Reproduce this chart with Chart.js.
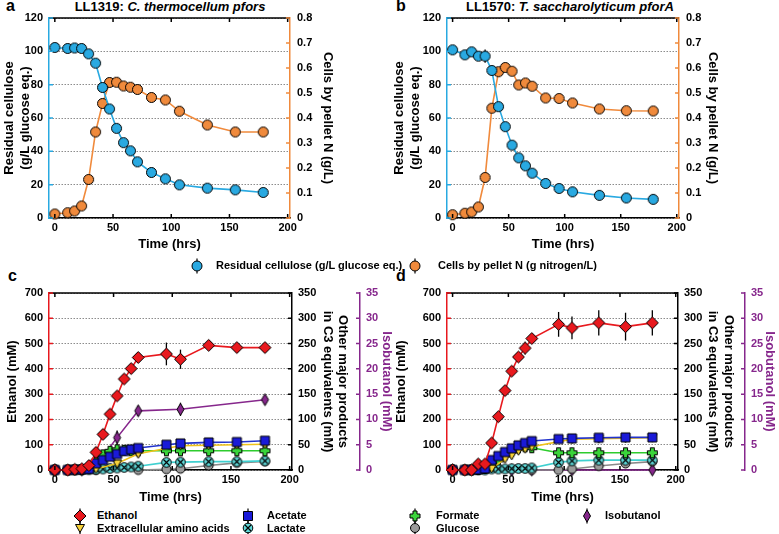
<!DOCTYPE html>
<html>
<head>
<meta charset="utf-8">
<script src="https://cdn.jsdelivr.net/npm/chart.js@4.4.1/dist/chart.umd.min.js"></script>
<style>
  body { margin: 0; width: 779px; height: 534px; background: #fff; position: relative; overflow: hidden;
         font-family: "Liberation Sans", Arial, sans-serif; font-weight: bold; color: #000; }
  canvas { position: absolute; }
  .lbl { position: absolute; white-space: nowrap; }
  .letter { font-size: 16px; line-height: 16px; }
  .ptitle { font-size: 13px; line-height: 15px; transform: translateX(-50%); }
  .legtxt { position: absolute; white-space: nowrap; font-size: 11px; line-height: 14px; }
</style>
</head>
<body>
<div class="lbl letter" style="left:6px;top:-2px">a</div>
<div class="lbl letter" style="left:396px;top:-2px">b</div>
<div class="lbl letter" style="left:8px;top:268px">c</div>
<div class="lbl letter" style="left:396px;top:268px">d</div>
<div class="lbl ptitle" style="left:170px;top:-1px">LL1319: <i>C. thermocellum pfors</i></div>
<div class="lbl ptitle" style="left:570px;top:-1px">LL1570: <i>T. saccharolyticum pforA</i></div>

<script>
// ---- data ----
const xTicks = [0, 50, 100, 150, 200];
const cellTicks = [0, 20, 40, 60, 80, 100, 120];
const nTicks = [0, 0.1, 0.2, 0.3, 0.4, 0.5, 0.6, 0.7, 0.8];
const ethTicks = [0, 100, 200, 300, 400, 500, 600, 700];
const c3Ticks = [0, 50, 100, 150, 200, 250, 300, 350];
const isoTicks = [0, 5, 10, 15, 20, 25, 30, 35];

// panels a, b (hrs)
const tAB = [0, 11, 17, 23, 29, 35, 41, 47, 53, 59, 65, 71, 83, 95, 107, 131, 155, 179];
const aCellulose = [102.3, 101.7, 102, 101.7, 98.5, 92.9, 78.3, 65.4, 53.8, 45.2, 40.3, 33.7, 27.3, 23.5, 19.9, 17.9, 16.9, 15.3];
const aCelluloseErr = [0.5, 0.5, 0.5, 0.5, 2.5, 1, 1, 1, 1, 1, 2, 1, 1, 1, 1, 1, 1, 1];
const aCellsN = [0.016, 0.021, 0.028, 0.048, 0.154, 0.344, 0.458, 0.542, 0.543, 0.528, 0.523, 0.514, 0.482, 0.472, 0.427, 0.372, 0.344, 0.344];
const bCellulose = [100.9, 97.9, 99.7, 97.1, 97.1, 88.5, 66.8, 54.8, 43.7, 36.1, 31.3, 26.9, 20.7, 17.7, 15.7, 13.6, 12.0, 11.2];
const bCelluloseErr = [0.5, 0.5, 0.5, 1, 4, 3, 1, 1, 1, 1, 1, 1, 1, 2, 3, 3, 3, 3];
const bCellsN = [0.013, 0.019, 0.024, 0.044, 0.162, 0.439, 0.585, 0.602, 0.587, 0.532, 0.540, 0.527, 0.480, 0.478, 0.460, 0.436, 0.429, 0.428];

// panels c, d (hrs)
const tCD = [0, 11, 17, 23, 29, 35, 41, 47, 53, 59, 65, 71, 95, 107, 131, 155, 179];
const cEthanol = [0, 0, 3, 5, 18, 70, 141, 221, 293, 360, 401, 445, 459, 438, 493, 484, 484];
const cEthanolErr = [0, 0, 0, 0, 2, 3, 3, 3, 3, 3, 3, 3, 45, 38, 5, 5, 5];
const cAcetate = [0, 0, 0.5, 1, 2, 13.2, 19.7, 26.3, 31.6, 37.5, 40.8, 43.4, 50, 52.6, 54.6, 55.3, 57.9];
const cFormate = [0, 0, 0.5, 1, 3, 15, 30, 37, 40, 39, 38, 38, 38, 38, 38, 38, 38];
const cLactate = [0, 0, 0, 0, 0.5, 1, 2, 3, 4, 5, 6, 7.5, 15, 15.5, 16.5, 16.5, 18];
const tAminoC = [0, 23, 35, 53, 71, 107, 131, 155, 179];
const cAmino = [0, 0, 2, 13, 32, 48, 49, 50, 51];
const tGlucC = [0, 35, 71, 95, 107, 131, 155, 179];
const cGlucose = [0, 0, 0, 1.5, 2.5, 9, 14, 17];
const tIsoC = [0, 23, 35, 53, 71, 107, 179];
const cIso = [0, 0, 0.9, 6.4, 11.7, 12.0, 13.9];
const cIsoErr = [0, 0, 0.3, 1.4, 1, 1.3, 0.8];

const dEthanol = [0, 0, 0, 24, 24, 107, 211, 314, 391, 447, 482, 520, 576, 562, 582, 567, 582];
const dEthanolErr = [0, 0, 0, 6, 6, 5, 5, 5, 8, 10, 25, 20, 49, 45, 50, 55, 50];
const dAcetate = [0, 0, 0.5, 1, 3, 19.7, 27.6, 35.5, 42.8, 48.7, 53.3, 57.2, 61.2, 62.5, 63.8, 64.5, 64.5];
const dFormate = [0, 0, 0, 1, 3, 10, 20, 30, 38, 44, 46, 44, 34, 34, 34, 34, 34];
const dLactate = [0, 0, 0, 0, 0, 2, 2, 2, 2.5, 3, 3, 4, 15, 18, 19.5, 19.5, 19.5];
const tAminoD = [0, 23, 35, 47, 53, 59, 65, 71, 107, 131, 155, 179];
const dAmino = [0, 0, 3, 22, 29, 38, 42, 46, 61, 62, 63, 64];
const tGlucD = [0, 71, 95, 107, 131, 155, 179];
const dGlucose = [0, 0, 0, 2, 8, 13, 16.5];
const tIsoD = [0, 53, 71, 107, 179];
const dIso = [0, 0, 0, 0, 0];

// ---- styles ----
const BLUE = '#29a9e1', ORANGE = '#f08a3c', RED = '#e8191e', PURPLE = '#86278c';
const FONT = 'Liberation Sans';
Chart.defaults.font.family = FONT;
Chart.defaults.font.weight = 'bold';
Chart.defaults.font.size = 11;
Chart.defaults.color = '#000';

function drawMark(ctx, kind, x, y, fill) {
  ctx.fillStyle = fill;
  ctx.strokeStyle = '#000';
  ctx.lineWidth = 1;
  ctx.beginPath();
  if (kind === 'circle') ctx.arc(x, y, 5, 0, Math.PI * 2);
  else if (kind === 'dot') ctx.arc(x, y, 4.5, 0, Math.PI * 2);
  else if (kind === 'diamond') { ctx.moveTo(x, y - 6); ctx.lineTo(x + 6, y); ctx.lineTo(x, y + 6); ctx.lineTo(x - 6, y); ctx.closePath(); }
  else if (kind === 'square') ctx.rect(x - 4.5, y - 4.5, 9, 9);
  else if (kind === 'tri') { ctx.moveTo(x - 4.5, y - 3.5); ctx.lineTo(x + 4.5, y - 3.5); ctx.lineTo(x, y + 4.5); ctx.closePath(); }
  else if (kind === 'thin') { ctx.moveTo(x, y - 6); ctx.lineTo(x + 3.5, y); ctx.lineTo(x, y + 6); ctx.lineTo(x - 3.5, y); ctx.closePath(); }
  else if (kind === 'plus') {
    const a = 2, b = 5;
    ctx.moveTo(x - a, y - b); ctx.lineTo(x + a, y - b); ctx.lineTo(x + a, y - a); ctx.lineTo(x + b, y - a);
    ctx.lineTo(x + b, y + a); ctx.lineTo(x + a, y + a); ctx.lineTo(x + a, y + b); ctx.lineTo(x - a, y + b);
    ctx.lineTo(x - a, y + a); ctx.lineTo(x - b, y + a); ctx.lineTo(x - b, y - a); ctx.lineTo(x - a, y - a); ctx.closePath();
  }
  else if (kind === 'xcircle') ctx.arc(x, y, 4.8, 0, Math.PI * 2);
  ctx.fill();
  ctx.stroke();
  if (kind === 'xcircle') {
    ctx.lineWidth = 1.2;
    ctx.beginPath();
    ctx.moveTo(x - 3, y - 3); ctx.lineTo(x + 3, y + 3);
    ctx.moveTo(x + 3, y - 3); ctx.lineTo(x - 3, y + 3);
    ctx.stroke();
  }
}

function markCanvas(kind, fill) {
  const c = document.createElement('canvas');
  c.width = 15; c.height = 15;
  drawMark(c.getContext('2d'), kind, 7.5, 7.5, fill);
  return c;
}

function pts(t, v) { return t.map((x, i) => ({ x, y: v[i] })); }

function series(label, t, v, color, kind, fill, axis, errs) {
  return {
    label, data: pts(t, v), borderColor: color, borderWidth: 1.6,
    pointStyle: markCanvas(kind, fill), pointRadius: 5,
    yAxisID: axis, errs, clip: false, tension: 0
  };
}

// ---- plugins ----
const errorBars = {
  id: 'errorBars',
  beforeDatasetsDraw(chart) {
    const ctx = chart.ctx;
    ctx.save();
    ctx.strokeStyle = '#000';
    ctx.lineWidth = 1.3;
    chart.data.datasets.forEach((ds, i) => {
      if (!ds.errs) return;
      const ys = chart.scales[ds.yAxisID];
      chart.getDatasetMeta(i).data.forEach((pt, j) => {
        const e = ds.errs[j];
        if (!e) return;
        const v = ds.data[j].y;
        ctx.beginPath();
        ctx.moveTo(pt.x, ys.getPixelForValue(v - e));
        ctx.lineTo(pt.x, ys.getPixelForValue(v + e));
        ctx.stroke();
      });
    });
    ctx.restore();
  }
};

const frame = {
  id: 'frame',
  afterDraw(chart) {
    const { ctx, chartArea: a, scales } = chart;
    ctx.save();
    ctx.lineWidth = 1.5;
    ctx.strokeStyle = '#000';
    ctx.beginPath();
    ctx.moveTo(a.left, a.top); ctx.lineTo(a.right, a.top);
    scales.x.ticks.forEach(t => {
      const px = scales.x.getPixelForValue(t.value);
      ctx.moveTo(px, a.bottom); ctx.lineTo(px, a.bottom - 4);
      ctx.moveTo(px, a.top); ctx.lineTo(px, a.top + 4);
    });
    ctx.stroke();
    Object.values(scales).forEach(s => {
      if (s.axis !== 'y') return;
      const left = s.position === 'left';
      const x0 = left ? s.right : s.left;
      const dir = left ? 1 : -1;
      ctx.strokeStyle = s.options.border.color;
      ctx.beginPath();
      s.ticks.forEach(t => {
        const py = s.getPixelForValue(t.value);
        ctx.moveTo(x0, py); ctx.lineTo(x0 + dir * 4, py);
      });
      ctx.stroke();
    });
    ctx.restore();
  }
};

function setTicks(arr) { return s => { s.ticks = arr.map(v => ({ value: v })); }; }
const titleFont = { size: 13, weight: 'bold', family: FONT };

function xScale(h, pad) {
  return {
    type: 'linear', min: -5, max: 202,
    afterBuildTicks: setTicks(xTicks),
    afterFit: s => { s.height = h; },
    grid: { drawOnChartArea: false, drawTicks: false },
    border: { color: '#000', width: 1.5 },
    ticks: { padding: 3 },
    title: { display: true, text: 'Time (hrs)', font: titleFont, padding: { top: 0, bottom: pad } }
  };
}

function yScale(o) {
  return {
    type: 'linear', position: o.pos, min: o.min, max: o.max,
    afterBuildTicks: setTicks(o.ticks),
    afterFit: s => { s.width = o.w; },
    grid: o.grid ? { color: '#8c8c8c', lineWidth: 1, drawTicks: false } : { drawOnChartArea: false, drawTicks: false },
    border: { color: o.color, width: 1.5, dash: o.grid ? [1.5, 1.5] : undefined },
    ticks: { padding: o.tp, color: o.textColor || '#000', callback: v => String(v) },
    title: { display: true, text: o.title, color: o.textColor || '#000', font: titleFont, padding: { top: o.titlePad, bottom: 0 } }
  };
}

function makeChart(left, top, w, h, padTop, datasets, scales) {
  const cv = document.createElement('canvas');
  cv.width = w; cv.height = h;
  cv.style.left = left + 'px'; cv.style.top = top + 'px';
  document.body.appendChild(cv);
  new Chart(cv, {
    type: 'line',
    data: { datasets },
    options: {
      responsive: false, animation: false, events: [],
      layout: { padding: { top: padTop, left: 0, right: 0, bottom: 0 } },
      plugins: { legend: { display: false }, tooltip: { enabled: false } },
      scales
    },
    plugins: [errorBars, frame]
  });
}

// ---- panel a ----
makeChart(0, 0, 345, 254, 18, [
  series('Residual cellulose', tAB, aCellulose, BLUE, 'circle', BLUE, 'yL', aCelluloseErr),
  series('Cells by pellet N', tAB, aCellsN, ORANGE, 'circle', ORANGE, 'yR')
], {
  x: xScale(36, 2.2),
  yL: yScale({ pos: 'left', min: 0, max: 120, ticks: cellTicks, w: 49, grid: true, color: BLUE, tp: 6,
               title: ['Residual cellulose', '(g/L glucose eq.)'], titlePad: 2 }),
  yR: yScale({ pos: 'right', min: 0, max: 0.8, ticks: nTicks, w: 55, color: ORANGE, tp: 7,
               title: 'Cells by pellet N (g/L)', titlePad: 10 })
});

// ---- panel b ----
makeChart(390, 0, 333, 254, 18, [
  series('Residual cellulose', tAB, bCellulose, BLUE, 'circle', BLUE, 'yL', bCelluloseErr),
  series('Cells by pellet N', tAB, bCellsN, ORANGE, 'circle', ORANGE, 'yR')
], {
  x: xScale(36, 2.2),
  yL: yScale({ pos: 'left', min: 0, max: 120, ticks: cellTicks, w: 57, grid: true, color: BLUE, tp: 6,
               title: ['Residual cellulose', '(g/L glucose eq.)'], titlePad: 2 }),
  yR: yScale({ pos: 'right', min: 0, max: 0.8, ticks: nTicks, w: 44, color: ORANGE, tp: 7,
               title: 'Cells by pellet N (g/L)', titlePad: 2.2 })
});

// ---- panels c, d ----
function productSets(eth, ethErr, acet, amT, amino, form, lact, glT, gluc, isoT, iso, isoErr) {
  return [
    series('Ethanol', tCD, eth, RED, 'diamond', RED, 'yL', ethErr),
    series('Acetate', tCD, acet, '#2233cc', 'square', '#1a1ad8', 'y1'),
    series('Extracellular amino acids', amT, amino, '#efc21a', 'tri', '#f7d23a', 'y1'),
    series('Formate', tCD, form, '#2ecc2e', 'plus', '#3ad43a', 'y1'),
    series('Lactate', tCD, lact, '#3fd0d0', 'xcircle', '#5fd9d9', 'y1'),
    series('Glucose', glT, gluc, '#8a8a8a', 'dot', '#9a9a9a', 'y1'),
    series('Isobutanol', isoT, iso, PURPLE, 'thin', PURPLE, 'y2', isoErr)
  ];
}

function productScales(wL, w1, w2, ethPad, c3Pad, isoPad) {
  return {
    x: xScale(38, 3.2),
    yL: yScale({ pos: 'left', min: 0, max: 700, ticks: ethTicks, w: wL, grid: true, color: RED, tp: 6,
                 title: 'Ethanol (mM)', titlePad: ethPad }),
    y1: yScale({ pos: 'right', min: 0, max: 350, ticks: c3Ticks, w: w1, color: '#000', tp: 6,
                 title: ['Other major products', 'in C3 equivalents (mM)'], titlePad: c3Pad }),
    y2: yScale({ pos: 'right', min: 0, max: 35, ticks: isoTicks, w: w2, color: PURPLE, tp: 6, textColor: PURPLE,
                 title: 'Isobutanol (mM)', titlePad: isoPad })
  };
}

makeChart(0, 270, 397, 238, 23,
  productSets(cEthanol, cEthanolErr, cAcetate, tAminoC, cAmino, cFormate, cLactate, tGlucC, cGlucose, tIsoC, cIso, cIsoErr),
  productScales(49, 68, 37, 4.2, 9.2, 2.5));

makeChart(390, 270, 389, 238, 23,
  productSets(dEthanol, dEthanolErr, dAcetate, tAminoD, dAmino, dFormate, dLactate, tGlucD, dGlucose, tIsoD, dIso, null),
  productScales(57, 67, 34, 3.9, 8.9, 1.2));

// ---- legends ----
const legend = [
  ['circle', BLUE, 197, 265.7, 216, 'Residual cellulose (g/L glucose eq.)'],
  ['circle', ORANGE, 415, 265.7, 438, 'Cells by pellet N (g nitrogen/L)'],
  ['diamond', RED, 80, 515.7, 97, 'Ethanol'],
  ['tri', '#f7d23a', 80, 528.3, 97, 'Extracellular amino acids'],
  ['square', '#1a1ad8', 248, 515.7, 267, 'Acetate'],
  ['xcircle', '#5fd9d9', 248, 528.3, 267, 'Lactate'],
  ['plus', '#3ad43a', 415, 515.7, 436, 'Formate'],
  ['dot', '#9a9a9a', 415, 528.3, 436, 'Glucose'],
  ['thin', PURPLE, 587, 515.7, 605, 'Isobutanol']
];
legend.forEach(([kind, fill, x, y, tx, text]) => {
  const c = document.createElement('canvas');
  c.width = 16; c.height = 16;
  c.style.left = (x - 8) + 'px'; c.style.top = (y - 8) + 'px';
  const ctx = c.getContext('2d');
  ctx.strokeStyle = '#000'; ctx.lineWidth = 1.2;
  ctx.beginPath(); ctx.moveTo(8, 0.5); ctx.lineTo(8, 15.5); ctx.stroke();
  drawMark(ctx, kind, 8, 8, fill);
  document.body.appendChild(c);
  const d = document.createElement('div');
  d.className = 'legtxt';
  d.style.left = tx + 'px'; d.style.top = (y - 7.5) + 'px';
  d.textContent = text;
  document.body.appendChild(d);
});
</script>
</body>
</html>
